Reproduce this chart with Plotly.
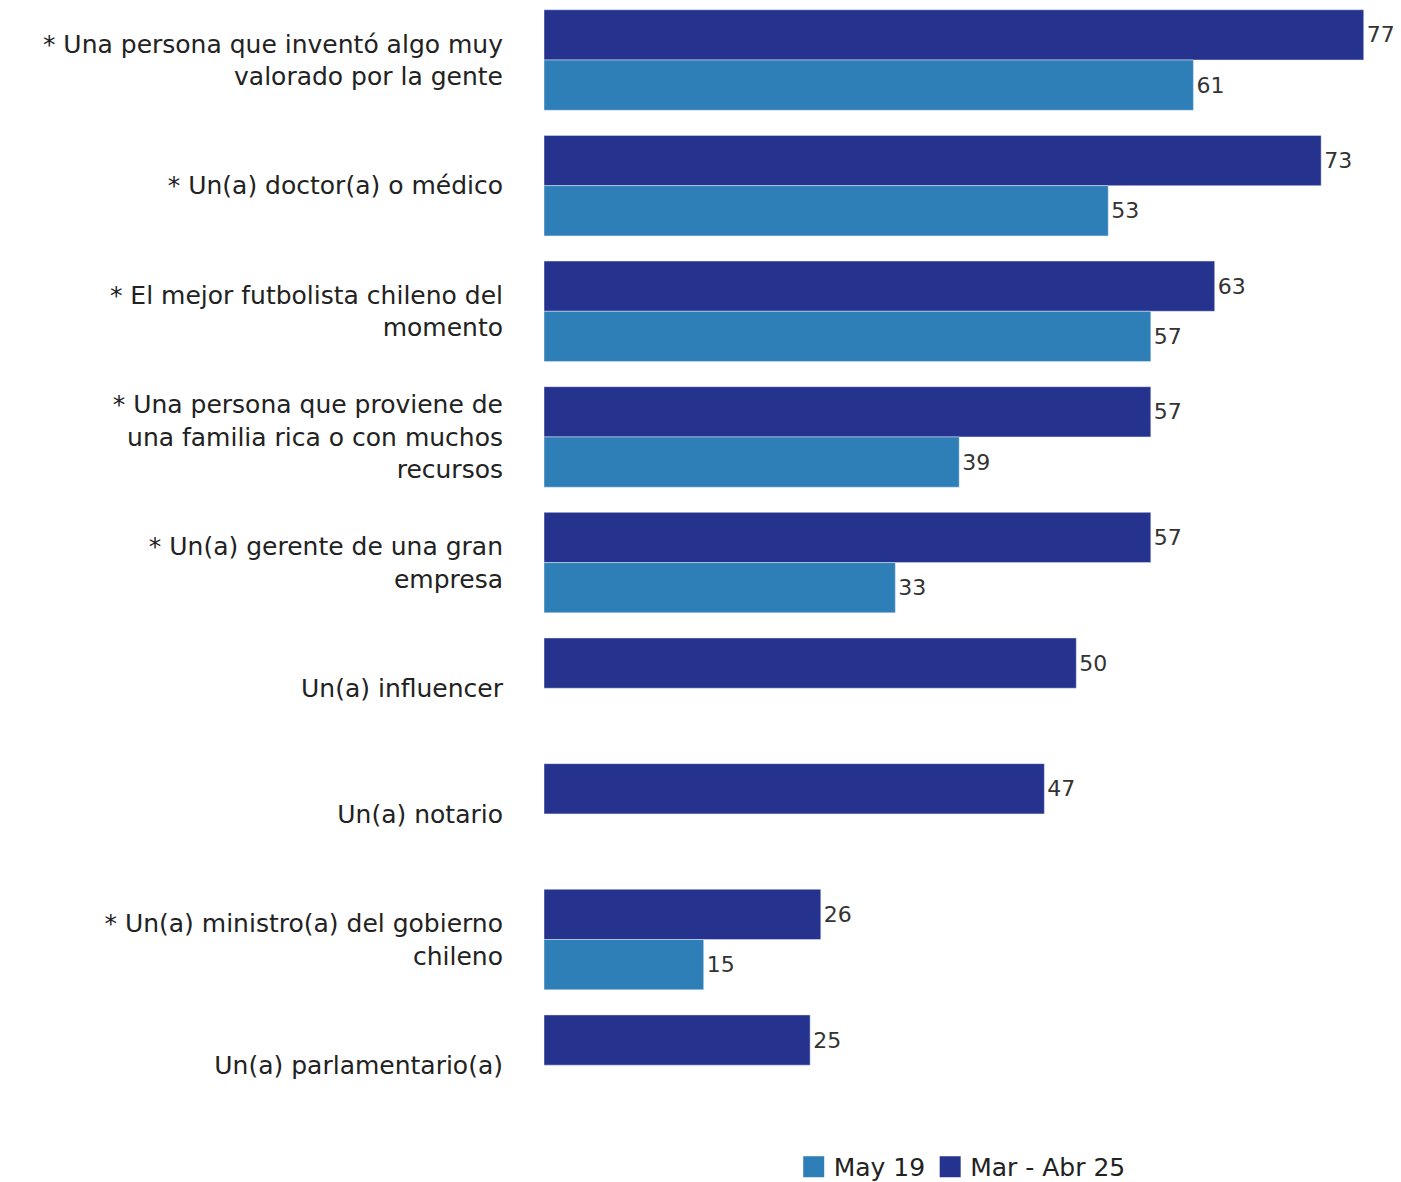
import plotly.graph_objects as go

categories = [
    "* Una persona que inventó algo muy<br>valorado por la gente",
    "* Un(a) doctor(a) o médico",
    "* El mejor futbolista chileno del<br>momento",
    "* Una persona que proviene de<br>una familia rica o con muchos<br>recursos",
    "* Un(a) gerente de una gran<br>empresa",
    "Un(a) influencer",
    "Un(a) notario",
    "* Un(a) ministro(a) del gobierno<br>chileno",
    "Un(a) parlamentario(a)",
]
mar_abr_25 = [77, 73, 63, 57, 57, 50, 47, 26, 25]
may_19 = [61, 53, 57, 39, 33, None, None, 15, None]

DARK = "#25338F"
LIGHT = "#2E7EB8"
FONT = "DejaVu Sans"

fig = go.Figure()
fig.add_trace(go.Bar(
    y=categories, x=mar_abr_25, orientation="h", name="Mar - Abr 25",
    marker=dict(color=DARK), text=mar_abr_25, textposition="outside",
    textfont=dict(size=22, color="#333333", family=FONT), cliponaxis=False,
    showlegend=False,
))
fig.add_trace(go.Bar(
    y=categories, x=may_19, orientation="h", name="May 19",
    marker=dict(color=LIGHT), text=may_19, textposition="outside",
    textfont=dict(size=22, color="#333333", family=FONT), cliponaxis=False,
    showlegend=False,
))
# legend entries with big square swatches
for name, col in [("May 19", LIGHT), ("Mar - Abr 25", DARK)]:
    fig.add_trace(go.Scatter(x=[None], y=[None], mode="markers", name=name,
                             marker=dict(symbol="square", size=26, color=col,
                                         line=dict(width=6, color=col))))

fig.update_layout(
    width=1393, height=1174,
    margin=dict(l=536, r=0, t=0, b=54),
    plot_bgcolor="white", paper_bgcolor="white",
    barmode="group", bargap=0.2, bargroupgap=0,
    font=dict(family=FONT, size=25, color="#222222"),
    legend=dict(orientation="h", itemsizing="trace",
                x=0.488, xanchor="center", yref="container", y=0.0128, yanchor="middle",
                font=dict(size=25, color="#222222")),
    xaxis=dict(range=[0, 80.5], visible=False, showgrid=False, zeroline=False),
    yaxis=dict(categoryorder="array", categoryarray=categories, range=[8.5, -0.414],
               showgrid=False, showline=False, ticks="", ticklabelstandoff=40,
               tickfont=dict(size=25, color="#222222")),
)

fig.write_html("out.html")
